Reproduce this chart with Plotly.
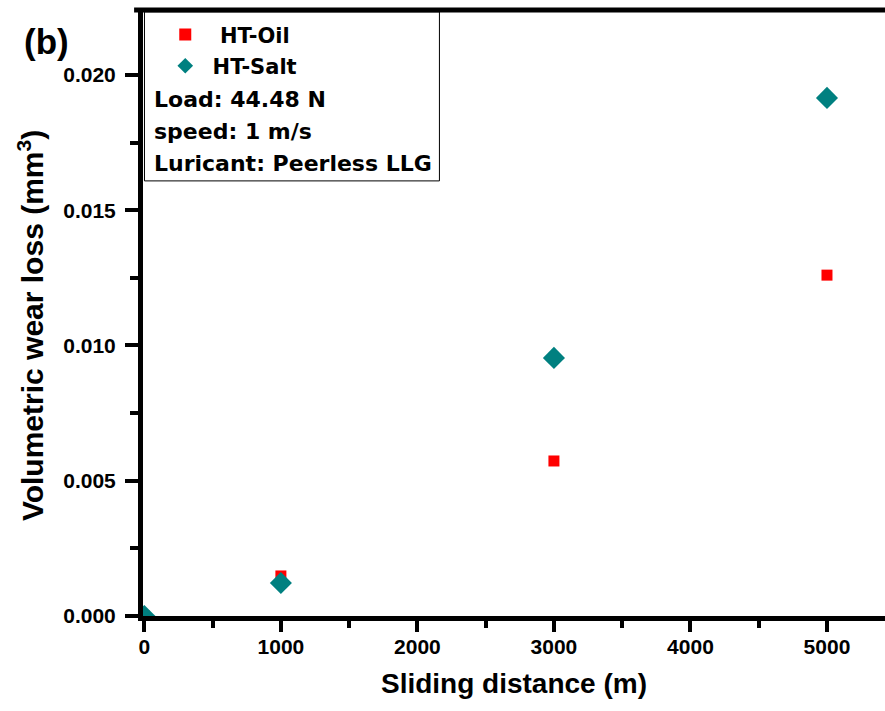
import plotly.graph_objects as go

# Sliding distance (m) and volumetric wear loss (mm^3)
distance = [0, 1000, 3000, 5000]
ht_oil = [0.0, 0.00148, 0.00573, 0.0126]
ht_salt = [0.0, 0.00122, 0.00954, 0.01915]

info_lines = ["Load: 44.48 N", "speed: 1 m/s", "Luricant: Peerless LLG"]

FONT = "Arial, Liberation Sans, sans-serif"
WIDE = "DejaVu Sans, Arial, sans-serif"
NB = "\u00a0"

fig = go.Figure()
fig.add_trace(go.Scatter(
    x=distance, y=ht_oil, mode="markers", name=NB * 2 + "HT-Oil",
    legendgroup="oil",
    marker=dict(symbol="square", size=11, color="#FF0000"),
))
fig.add_trace(go.Scatter(
    x=distance, y=ht_salt, mode="markers", name=NB + "HT-Salt",
    legendgroup="salt",
    marker=dict(symbol="diamond", size=17, color="#008080"),
))

axis_common = dict(
    showline=True, linecolor="black", linewidth=5,
    ticks="outside", tickwidth=4, tickcolor="black",
    showgrid=False, zeroline=False, layer="above traces",
    ticklabelposition="outside",
    tickfont=dict(family=FONT, size=21, color="black", weight="bold"),
)

fig.update_xaxes(
    range=[-10, 5425], tick0=0, dtick=1000, ticklen=11,
    minor=dict(ticks="outside", ticklen=7, tickwidth=4, tickcolor="black", dtick=500),
    ticklabelstandoff=-3,
    title=dict(text="<b>Sliding distance (m)</b>", font=dict(family=FONT, size=28, color="black"), standoff=18),
    **axis_common,
)
fig.update_yaxes(
    range=[0, 0.0224], tick0=0, dtick=0.005, tickformat=".3f", ticklen=13,
    minor=dict(ticks="outside", ticklen=8, tickwidth=4, tickcolor="black", dtick=0.0025),
    ticklabelstandoff=5,
    **axis_common,
)

# y-axis title, placed as rotated text
fig.add_annotation(
    xref="paper", yref="paper", x=-0.151, y=0.48, xanchor="center", yanchor="middle",
    textangle=-90, showarrow=False,
    text="<b>Volumetric wear loss (mm<sup>3</sup>)</b>",
    font=dict(family=FONT, size=30, color="black"),
)

# top frame line
fig.add_shape(type="line", xref="paper", yref="paper", x0=-0.012, x1=1, y0=1, y1=1,
              line=dict(color="black", width=5))
# legend/info box
fig.add_shape(type="rect", xref="paper", yref="paper",
              x0=0.002, x1=0.3995, y0=0.718, y1=0.997,
              line=dict(color="black", width=1), fillcolor="rgba(0,0,0,0)")

for i, line in enumerate(info_lines):
    fig.add_annotation(
        xref="paper", yref="paper", x=0.012, y=0.8515 - i * 0.052,
        xanchor="left", yanchor="middle", showarrow=False,
        text=f"<b>{line}</b>",
        font=dict(family=WIDE, size=22, color="black"),
    )

fig.add_annotation(
    xref="paper", yref="paper", x=-0.163, y=0.9475, xanchor="left", yanchor="middle",
    showarrow=False, text="<b>(b)</b>", font=dict(family=FONT, size=35, color="black"),
)

fig.update_layout(
    width=885, height=711,
    margin=dict(l=143, r=0, t=10, b=95),
    paper_bgcolor="white", plot_bgcolor="white",
    showlegend=True,
    legend=dict(
        x=0.03, y=0.993, xanchor="left", yanchor="top",
        bgcolor="rgba(0,0,0,0)", borderwidth=0,
        font=dict(family=WIDE, size=21, color="black", weight="bold"),
        tracegroupgap=1, itemsizing="constant",
    ),
)

fig.write_html("out.html")
